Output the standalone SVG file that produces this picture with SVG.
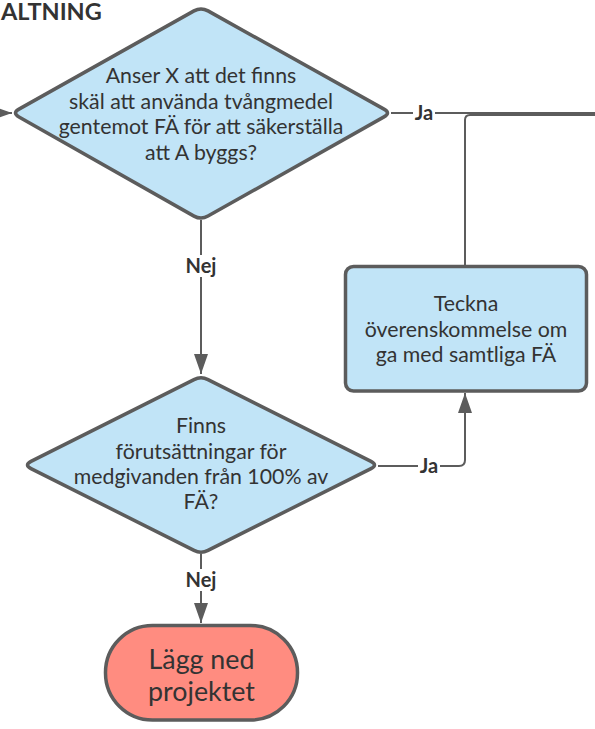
<svg xmlns="http://www.w3.org/2000/svg" width="595" height="729" viewBox="0 0 595 729">
<style>
.shape{stroke:#5c5c5c;stroke-width:3.5;stroke-linejoin:round}
.dec{fill:#c1e4f7}
.term{fill:#ff8c80}
.t{font-family:Lato,"Liberation Sans",sans-serif;font-size:21.3px;fill:#333;text-anchor:middle}
.tl{font-family:Lato,"Liberation Sans",sans-serif;font-size:26.8px;fill:#333;text-anchor:middle}
.lbl{font-family:Lato,"Liberation Sans",sans-serif;font-size:20px;font-weight:bold;fill:#333;text-anchor:middle}
.c{fill:none;stroke:#5c5c5c;stroke-width:2}
.lb{fill:#fff}
</style>
<defs>
<marker id="ah" markerWidth="20" markerHeight="14" refX="20" refY="7" orient="auto" markerUnits="userSpaceOnUse">
<path d="M0,0 L20,7 L0,14 Z" fill="#5c5c5c"/>
</marker>
</defs>
<rect width="595" height="729" fill="#fff"/>
<text x="1" y="20" font-family="Lato,'Liberation Sans',sans-serif" font-size="23.5" font-weight="bold" fill="#333">ALTNING</text>
<g id="connectors">
<path class="c" d="M-5,113 L12,113" marker-end="url(#ah)"/>
<path class="c" d="M391,113 L600,113"/>
<path class="c" d="M465,265 L465,120 Q465,115 470,115 L600,115"/>
<path class="c" d="M201,220 L201,374" marker-end="url(#ah)"/>
<path class="c" d="M378,466 L459,466 Q465,466 465,460 L465,393" marker-end="url(#ah)"/>
<path class="c" d="M201,554 L201,623" marker-end="url(#ah)"/>
<rect class="lb" x="413" y="103" width="22" height="20"/>
<text class="lbl" x="424" y="120">Ja</text>
<rect class="lb" x="183" y="255" width="36" height="22"/>
<text class="lbl" x="201" y="273">Nej</text>
<rect class="lb" x="418" y="456" width="22" height="20"/>
<text class="lbl" x="429" y="473">Ja</text>
<rect class="lb" x="183" y="569" width="36" height="22"/>
<text class="lbl" x="201" y="587">Nej</text>
</g>
<g id="d1">
<path class="shape dec" d="M194,10.9 Q201,7 208,10.9 L384,109.1 Q391,113 384,116.9 L208,216.1 Q201,220 194,216.1 L19,116.9 Q12,113 19,109.1 Z"/>
<text class="t" x="201" y="83">Anser X att det finns</text>
<text class="t" x="201" y="108.5">skäl att använda tvångmedel</text>
<text class="t" x="201" y="134">gentemot FÄ för att säkerställa</text>
<text class="t" x="201" y="160">att A byggs?</text>
</g>
<g id="d2">
<path class="shape dec" d="M194,379.6 Q201,376 208,379.6 L371,461.4 Q378,465 371,468.6 L208,550.4 Q201,554 194,550.4 L31,468.6 Q24,465 31,461.4 Z"/>
<text class="t" x="201" y="433">Finns</text>
<text class="t" x="201" y="459">förutsättningar för</text>
<text class="t" x="201" y="484">medgivanden från 100% av</text>
<text class="t" x="201" y="509">FÄ?</text>
</g>
<g id="box">
<rect class="shape dec" x="345.5" y="266.5" width="241" height="124.5" rx="8"/>
<text class="t" x="466" y="310.5">Teckna</text>
<text class="t" x="466" y="336.5">överenskommelse om</text>
<text class="t" x="466" y="361.5">ga med samtliga FÄ</text>
</g>
<g id="end">
<rect class="shape term" x="105.5" y="625.5" width="192" height="94.5" rx="47"/>
<text class="tl" x="201.5" y="669">Lägg ned</text>
<text class="tl" x="201.5" y="701">projektet</text>
</g>
</svg>
